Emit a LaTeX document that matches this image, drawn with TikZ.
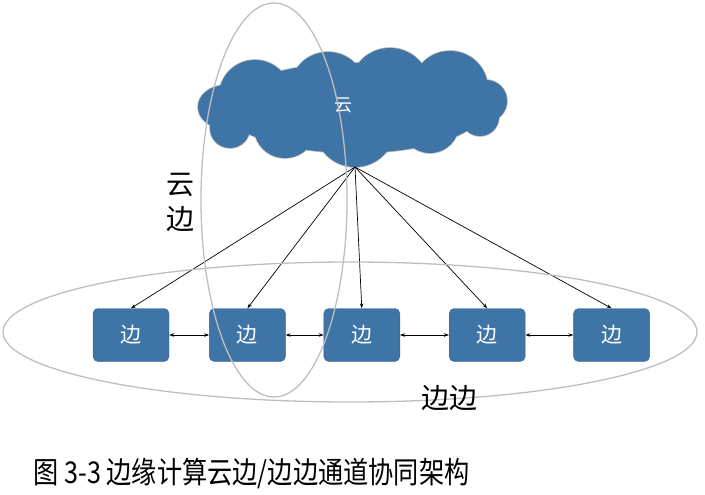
\documentclass[tikz,border=0pt]{standalone}
\usepackage{fontspec}
\newfontfamily\cjk{Noto Sans CJK SC}
\newfontfamily\capfont[FakeStretch=0.84]{Noto Sans CJK SC}
\usetikzlibrary{arrows.meta,positioning,shapes.geometric}
\definecolor{edgeblue}{RGB}{62,116,166}
\definecolor{ringgray}{RGB}{190,190,190}

\begin{document}
\begin{tikzpicture}[
    x=1pt, y=-1pt,
    >={Stealth[length=5pt,width=3.5pt]},
    edgebox/.style={draw=edgeblue!85!black, line width=0.4pt, fill=edgeblue, rounded corners=5pt, minimum width=76pt, minimum height=53pt, text=white, font=\cjk\fontsize{21}{21}\selectfont},
    puff/.style={fill=edgeblue},
    puffline/.style={draw=gray!55, line width=1.6pt},
    ring/.style={ellipse, draw=ringgray, line width=1.3pt, inner sep=0pt},
    arr/.style={->, line width=0.7pt},
    link/.style={<->, line width=0.7pt},
    tag/.style={font=\cjk\fontsize{28}{35}\selectfont, align=center}
]
    \useasboundingbox (0,0) rectangle (705,495);

    % cloud, built from puffs (outline pass, then fill pass)
    \foreach \sty in {puffline,puff} {
        \path[\sty] (355,108) ellipse [x radius=130, y radius=45];
        \foreach \cx/\cy/\r in {255/96/36, 328/90/38, 390/88/40, 450/89/38,
                                 486/101/21, 230/128/20, 285/127/31,
                                 355/127/40, 430/124/29, 480/117/19}
            \path[\sty] (\cx,\cy) circle [radius=\r];
        \path[\sty] (226,107) ellipse [x radius=28, y radius=22];
    }
    \node[text=white, font=\cjk\fontsize{18}{18}\selectfont] (cloud) at (343,105) {云};
    \coordinate (hub) at (355,167);

    \node[edgebox] (e1) at (131,335) {边};
    \node[edgebox, right=40pt of e1] (e2) {边};
    \node[edgebox, right=38pt of e2] (e3) {边};
    \node[edgebox, right=49pt of e3] (e4) {边};
    \node[edgebox, right=48pt of e4] (e5) {边};

    % cloud-edge links
    \foreach \i in {1,...,5}
        \draw[arr] (hub) -- (e\i.north);
    % edge-edge links
    \draw[link] (e1) -- (e2);
    \draw[link] (e2) -- (e3);
    \draw[link] (e3) -- (e4);
    \draw[link] (e4) -- (e5);

    \node[ring, minimum width=694pt, minimum height=140pt] (edgering) at (350,332) {};
    \node[ring, minimum width=146pt, minimum height=394pt] (cloudring) at (274,200) {};

    \node[tag] (yunbian) at (180,203) {云\\边};
    \node[tag] (bianbian) at (449,398) {边边};
    \node[anchor=west, font=\capfont\fontsize{30}{30}\selectfont] (caption) at (30,474) {图 3-3 边缘计算云边/边边通道协同架构};
\end{tikzpicture}
\end{document}
